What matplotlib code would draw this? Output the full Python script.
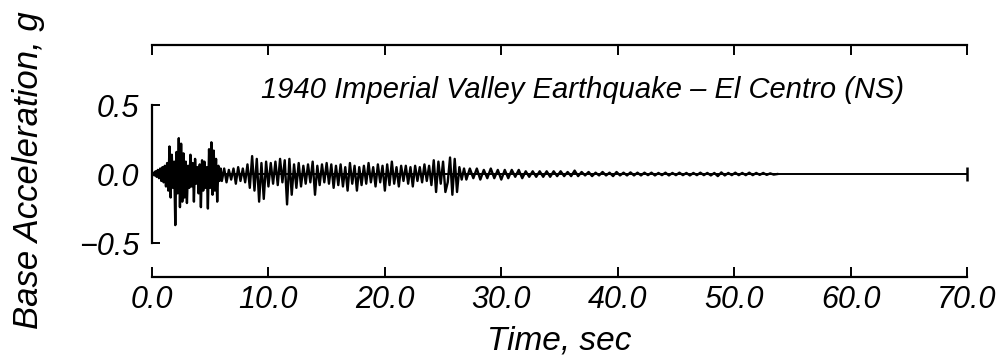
import numpy as np
import matplotlib.pyplot as plt

# Base acceleration (g), in three pieces with their own sample step
start_a, step_a = 0.0, 0.1
acc_a = [0.00, 0.01, -0.01, 0.02, -0.02, 0.03, -0.03, 0.04, -0.05, 0.05,
         -0.06, 0.06, -0.09, 0.08, -0.12, 0.20, -0.17, 0.14, -0.10, 0.09,
         -0.37, 0.16, -0.14, 0.26, -0.24, 0.22, -0.20, 0.15, -0.17, 0.09,
         -0.21, 0.06, -0.10, 0.14, -0.09, 0.08, -0.20, 0.11, -0.07, 0.05,
         -0.14, 0.07, -0.24, 0.10, -0.12, 0.09, -0.10, 0.05, -0.25, 0.18,
         -0.10, 0.23, -0.15, 0.17, -0.12, 0.11, -0.20, 0.06, -0.05, 0.04]

start_b, step_b = 6.0, 0.2
acc_b = [-0.05, 0.04, -0.06, 0.03, -0.04,
         0.04, -0.07, 0.05, -0.05, 0.04,
         -0.06, 0.07, -0.10, 0.13, -0.12,
         0.11, -0.20, 0.08, -0.18, 0.09,
         -0.09, 0.08, -0.07, 0.09, -0.08,
         0.11, -0.06, 0.10, -0.22, 0.11,
         -0.15, 0.07, -0.10, 0.08, -0.09,
         0.06, -0.07, 0.07, -0.06, 0.09,
         -0.15, 0.06, -0.08, 0.07, -0.06,
         0.08, -0.07, 0.07, -0.10, 0.06,
         -0.08, 0.07, -0.09, 0.05, -0.12,
         0.08, -0.07, 0.06, -0.12, 0.05,
         -0.08, 0.06, -0.07, 0.08, -0.06,
         0.05, -0.09, 0.07, -0.06, 0.06,
         -0.12, 0.07, -0.08, 0.09, -0.07,
         0.05, -0.09, 0.06, -0.05, 0.06,
         -0.07, 0.05, -0.09, 0.06, -0.05,
         0.05, -0.06, 0.07, -0.05, 0.06,
         -0.08, 0.10, -0.13, 0.09, -0.07,
         0.09, -0.13, -0.06, 0.12, -0.15,
         0.11, -0.13, 0.05, -0.04, 0.04]

start_c, step_c = 27.0, 0.3
acc_c = [-0.04, 0.04, -0.03, 0.04, -0.04, 0.03, -0.03, 0.04, -0.03, 0.03,
         -0.04, 0.03, -0.03, 0.03, -0.02, 0.03, -0.03, 0.02, -0.02, 0.02,
         -0.02, 0.02, -0.02, 0.02, -0.02, 0.02, -0.015, 0.02, -0.015, 0.015,
         -0.015, 0.025, -0.015, 0.015, -0.01, 0.015, -0.015, 0.01, -0.01, 0.015,
         -0.01, 0.01, -0.015, 0.015, -0.01, 0.01, -0.01, 0.012, -0.01, 0.01,
         -0.01, 0.01, -0.008, 0.01, -0.01, 0.008, -0.008, 0.01, -0.01, 0.008,
         -0.008, 0.01, -0.008, 0.008, -0.01, 0.008, -0.008, 0.01, -0.008, 0.008,
         -0.01, 0.008, -0.015, 0.012, -0.01, 0.008, -0.008, 0.01, -0.008, 0.008,
         -0.008, 0.01, -0.008, 0.008, -0.006, 0.008, -0.006, 0.005, -0.004, 0.0]

x_ticks = [0, 10, 20, 30, 40, 50, 60, 70]
y_ticks = [-0.5, 0.0, 0.5]
title = "1940 Imperial Valley Earthquake \u2013 El Centro (NS)"

# time axis for each piece
t_a = start_a + step_a * np.arange(len(acc_a))
t_b = start_b + step_b * np.arange(len(acc_b))
t_c = start_c + step_c * np.arange(len(acc_c))
t = np.concatenate([t_a, t_b, t_c])
acc = np.concatenate([acc_a, acc_b, acc_c])

plt.rcParams["font.family"] = ["Liberation Sans", "DejaVu Sans"]
plt.rcParams["font.style"] = "italic"

fig = plt.figure(figsize=(10.08, 3.55), dpi=100)
ax = fig.add_axes([0.1508, 0.2197, 0.8085, 0.6535])

# zero line over the whole time range, with an end cap
ax.axhline(0, color="black", lw=1.4, zorder=1)
ax.plot([x_ticks[-1]], [0], marker="|", ms=10, mew=1.8, color="black", clip_on=False)
ax.plot(t, acc, color="black", lw=1.7, zorder=2)

ax.set_xlim(x_ticks[0], x_ticks[-1])
ax.set_ylim(-0.746, 0.935)

ax.spines["right"].set_visible(False)
ax.spines["left"].set_bounds(y_ticks[0], y_ticks[-1])
for s in ["left", "top", "bottom"]:
    ax.spines[s].set_linewidth(1.6)

ax.set_xticks(x_ticks)
ax.set_xticklabels([f"{v:.1f}" for v in x_ticks], fontsize=22)
ax.set_yticks(y_ticks)
ax.set_yticklabels([f"{v:.1f}".replace("-", "\u2212") for v in y_ticks], fontsize=22)
ax.tick_params(axis="x", direction="in", length=7, width=1.4, top=True, pad=6)
ax.tick_params(axis="y", direction="in", length=6, width=1.4, pad=9)

ax.set_xlabel("Time, sec", fontsize=24, labelpad=7)
ax.set_ylabel("Base Acceleration, g", fontsize=25)
ax.yaxis.set_label_coords(-0.131, 0.46)
ax.text(37.0, 0.61, title, fontsize=21, ha="center", va="center")

fig.savefig("out.png", dpi=100)
